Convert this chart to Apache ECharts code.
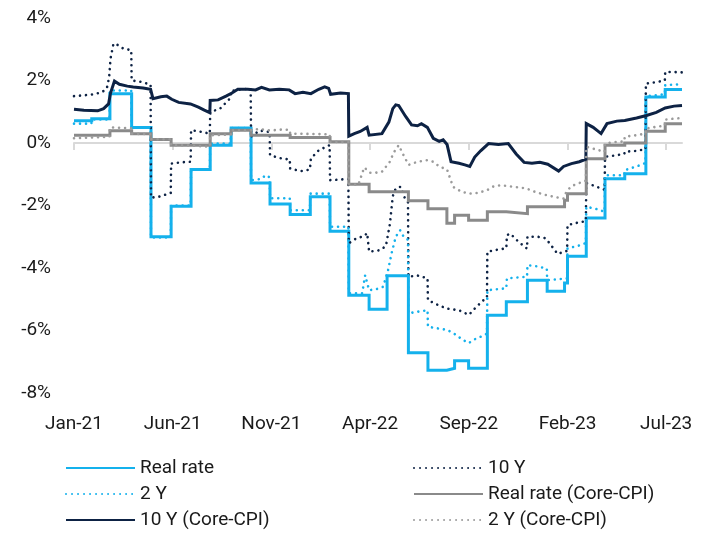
<!DOCTYPE html>
<html>
<head>
<meta charset="utf-8">
<script src="https://cdn.jsdelivr.net/npm/echarts@6/dist/echarts.min.js"></script>
<style>
  html, body { margin: 0; padding: 0; background: #fff; }
  #chart { width: 712px; height: 533px; }
</style>
</head>
<body>
<div id="chart"></div>
<script>
// x = months since Jan 2021
var tickMonths = [0, 5, 10, 15, 20, 25, 30];
var tickLabels = ['Jan-21', 'Jun-21', 'Nov-21', 'Apr-22', 'Sep-22', 'Feb-23', 'Jul-23'];

// step series: [month where level starts, level]; last point closes the line
var realRate = [
  [0, 0.71], [0.9, 0.78], [1.82, 1.58], [2.92, 0.5], [3.9, -3.0], [4.92, -2.02],
  [5.93, -0.85], [6.9, -0.07], [7.96, 0.48], [8.97, -1.28], [9.93, -1.95],
  [10.95, -2.29], [11.97, -1.72], [12.97, -2.82], [13.92, -4.87], [14.95, -5.32],
  [15.86, -4.25], [16.94, -6.71], [17.93, -7.27], [18.89, -7.21], [19.28, -6.97],
  [19.99, -7.21], [20.94, -5.51], [21.9, -5.08], [22.97, -4.39], [23.97, -4.74],
  [24.85, -4.48], [25.0, -3.62], [25.95, -2.4], [26.9, -1.14], [27.9, -0.98],
  [28.97, 1.47], [29.95, 1.71], [30.8, 1.71]
];

var realRateCore = [
  [0, 0.25], [1.82, 0.39], [2.92, 0.3], [3.9, 0.11], [4.92, -0.07], [6.9, 0.3],
  [7.96, 0.41], [8.97, 0.25], [10.95, 0.18], [12.97, 0.04], [13.92, -1.32],
  [14.95, -1.56], [16.94, -1.85], [17.93, -2.1], [18.89, -2.57], [19.28, -2.31],
  [19.99, -2.47], [20.94, -2.2], [21.9, -2.26], [22.97, -2.04], [24.85, -1.83],
  [25.0, -1.62], [25.95, -0.5], [26.9, -0.07], [27.9, 0.0], [28.97, 0.38],
  [29.95, 0.62], [30.8, 0.62]
];

// daily-ish series: [month, value]
var twoY = [
  [0, 0.62], [0.88, 0.62], [0.9, 0.75], [1.8, 0.75], [1.82, 1.68], [2.9, 1.68],
  [2.92, 0.5], [3.88, 0.5], [3.9, -3.02], [4.9, -3.02], [4.92, -2.0], [5.91, -2.0],
  [5.93, -0.84], [6.88, -0.84], [6.9, -0.02], [7.94, -0.02], [7.96, 0.48],
  [8.95, 0.48], [8.97, -1.19], [9.5, -1.15], [9.7, -1.03], [9.91, -1.1],
  [9.93, -1.77], [10.93, -1.77], [10.95, -2.15], [11.95, -2.15], [11.97, -1.62],
  [12.95, -1.62], [12.97, -2.68], [13.9, -2.68], [13.92, -4.81], [14.6, -4.81],
  [14.75, -4.23], [14.95, -4.71], [15.3, -4.68], [15.66, -4.6], [15.9, -4.1],
  [16.1, -3.5], [16.3, -3.0], [16.52, -2.79], [16.7, -3.0], [16.92, -3.1],
  [16.94, -5.45], [17.4, -5.4], [17.91, -5.35], [17.93, -5.88], [18.4, -5.93],
  [18.9, -5.98], [19.3, -6.12], [19.7, -6.3], [20.0, -6.4], [20.3, -6.28],
  [20.6, -6.2], [20.92, -6.1], [20.94, -4.71], [21.4, -4.68], [21.9, -4.65],
  [21.93, -4.33], [22.5, -4.3], [22.95, -4.28], [22.97, -3.91], [23.5, -3.95],
  [23.95, -4.02], [23.97, -4.39], [24.5, -4.36], [24.98, -4.33], [25.0, -3.37],
  [25.5, -3.3], [25.93, -3.2], [25.95, -2.04], [26.4, -2.1], [26.88, -2.2],
  [26.9, -1.03], [27.4, -1.03], [27.88, -1.03], [27.9, -0.87], [28.5, -0.75],
  [28.95, -0.64], [28.97, 1.5], [29.5, 1.53], [29.93, 1.56], [29.95, 1.85],
  [30.4, 1.87], [30.8, 1.88]
];

var tenY = [
  [0, 1.5], [0.9, 1.55], [1.4, 1.62], [1.66, 1.74], [1.78, 2.1], [1.85, 2.7],
  [2.0, 3.18], [2.2, 3.14], [2.5, 3.02], [2.9, 2.97], [2.92, 2.0], [3.3, 1.97],
  [3.88, 1.87], [3.9, -1.75], [4.3, -1.72], [4.9, -1.6], [4.92, -0.66],
  [5.4, -0.62], [5.91, -0.6], [5.93, 0.41], [6.5, 0.35], [6.88, 0.3],
  [6.9, 0.99], [7.4, 1.1], [7.94, 1.45], [7.96, 1.67], [8.5, 1.72], [8.95, 1.74],
  [8.97, 0.2], [9.4, 0.4], [9.91, 0.35], [9.93, -0.39], [10.4, -0.48],
  [10.93, -0.53], [10.95, -0.82], [11.5, -0.9], [11.95, -0.85], [12.0, -0.5],
  [12.4, -0.23], [12.95, -0.07], [12.97, -1.19], [13.5, -1.17], [13.9, -1.15],
  [13.92, -3.21], [14.3, -3.05], [14.7, -2.98], [14.85, -2.88], [14.95, -3.48],
  [15.5, -3.43], [15.8, -3.3], [16.0, -2.6], [16.15, -1.7], [16.3, -1.45],
  [16.55, -1.4], [16.75, -1.75], [16.92, -1.9], [16.94, -4.28], [17.4, -4.24],
  [17.91, -4.33], [17.93, -5.03], [18.5, -5.2], [18.9, -5.3], [19.5, -5.35],
  [20.0, -5.5], [20.3, -5.3], [20.7, -5.05], [20.92, -4.95], [20.94, -3.48],
  [21.4, -3.42], [21.9, -3.37], [21.93, -2.95], [22.1, -2.9], [22.5, -3.15],
  [22.95, -3.38], [22.97, -3.0], [23.5, -3.0], [23.9, -3.05], [24.2, -3.3],
  [24.5, -3.55], [24.98, -3.45], [25.0, -2.63], [25.5, -2.55], [25.93, -2.5],
  [25.95, -1.28], [26.4, -1.38], [26.88, -1.5], [26.9, -0.44], [27.4, -0.4],
  [27.88, -0.35], [27.9, -0.28], [28.5, -0.25], [28.95, -0.2], [28.97, 1.9],
  [29.5, 1.95], [29.93, 2.0], [29.95, 2.27], [30.4, 2.27], [30.8, 2.26]
];

var tenYCore = [
  [0, 1.08], [0.5, 1.05], [1.2, 1.03], [1.5, 1.1], [1.75, 1.25], [1.85, 1.6],
  [2.05, 1.98], [2.3, 1.88], [2.7, 1.82], [3.0, 1.79], [3.5, 1.76], [3.88, 1.72],
  [4.0, 1.42], [4.4, 1.48], [4.7, 1.5], [4.95, 1.4], [5.3, 1.3], [5.9, 1.25],
  [6.3, 1.15], [6.6, 1.05], [6.88, 0.97], [6.9, 1.36], [7.3, 1.38], [7.7, 1.5],
  [8.0, 1.6], [8.3, 1.72], [8.8, 1.72], [9.2, 1.7], [9.5, 1.78], [9.9, 1.7],
  [10.4, 1.72], [10.9, 1.7], [11.2, 1.58], [11.6, 1.62], [12.0, 1.58],
  [12.4, 1.72], [12.7, 1.8], [12.9, 1.75], [13.0, 1.56], [13.5, 1.6],
  [13.9, 1.58], [13.92, 0.22], [14.2, 0.3], [14.5, 0.37], [14.85, 0.5],
  [14.95, 0.25], [15.6, 0.3], [15.95, 0.67], [16.15, 1.1], [16.3, 1.22],
  [16.45, 1.2], [16.8, 0.85], [17.1, 0.58], [17.4, 0.55], [17.6, 0.62],
  [17.9, 0.5], [18.2, 0.15], [18.5, 0.05], [18.7, 0.1], [18.9, -0.05],
  [19.1, -0.6], [19.5, -0.65], [19.8, -0.7], [20.05, -0.75], [20.3, -0.45],
  [20.6, -0.25], [21.0, -0.02], [21.5, -0.05], [22.0, -0.02], [22.4, -0.35],
  [22.8, -0.62], [23.2, -0.65], [23.6, -0.62], [24.0, -0.68], [24.55, -0.9],
  [24.8, -0.75], [25.2, -0.66], [25.6, -0.6], [25.93, -0.52], [25.95, 0.62],
  [26.3, 0.5], [26.7, 0.3], [27.0, 0.62], [27.5, 0.7], [27.9, 0.72],
  [28.5, 0.8], [29.0, 0.88], [29.5, 0.98], [29.95, 1.12], [30.4, 1.18], [30.8, 1.2]
];

var twoYCore = [
  [0, 0.15], [1.8, 0.2], [1.82, 0.5], [2.9, 0.47], [2.92, 0.3], [3.88, 0.28],
  [3.9, 0.12], [4.9, 0.12], [4.92, -0.07], [5.91, -0.08], [5.93, -0.12],
  [6.88, -0.12], [6.9, 0.25], [7.94, 0.27], [7.96, 0.41], [8.95, 0.41],
  [8.97, 0.35], [9.4, 0.45], [9.91, 0.4], [10.5, 0.43], [10.93, 0.42],
  [10.95, 0.3], [12.95, 0.28], [12.97, 0.04], [13.9, 0.03], [13.92, -1.3],
  [14.4, -1.35], [14.7, -0.78], [15.0, -0.95], [15.3, -0.95], [15.6, -0.92],
  [16.0, -0.6], [16.2, -0.3], [16.45, -0.07], [16.7, -0.4], [16.95, -0.7],
  [17.4, -0.6], [17.9, -0.55], [18.2, -0.6], [18.5, -0.75], [18.9, -0.85],
  [19.2, -1.4], [19.6, -1.55], [20.0, -1.62], [20.4, -1.6], [20.9, -1.52],
  [21.2, -1.4], [21.6, -1.35], [22.0, -1.38], [22.5, -1.42], [22.9, -1.45],
  [23.3, -1.55], [23.8, -1.65], [24.3, -1.72], [24.8, -1.78], [24.95, -1.55],
  [25.2, -1.38], [25.6, -1.28], [25.93, -1.2], [25.95, -0.12], [26.4, -0.2],
  [26.88, -0.28], [26.9, -0.02], [27.4, 0.03], [27.88, 0.05], [27.9, 0.2],
  [28.5, 0.25], [28.95, 0.3], [28.97, 0.46], [29.5, 0.52], [29.93, 0.55],
  [29.95, 0.75], [30.4, 0.78], [30.8, 0.8]
];

var FONT = 'Roboto, "Liberation Sans", sans-serif';
var dotted = [0.01, 6];

function solid(name, data, color, step) {
  return {
    name: name, type: 'line', data: data, step: step ? 'end' : false,
    symbol: 'none', showSymbol: false,
    lineStyle: { color: color, width: 3, join: 'miter' },
    itemStyle: { color: color }
  };
}
function dots(name, data, color) {
  return {
    name: name, type: 'line', data: data,
    symbol: 'none', showSymbol: false,
    lineStyle: { color: color, width: 2.6, type: dotted, cap: 'round' },
    itemStyle: { color: color }
  };
}

function legendBox(left, names) {
  return {
    orient: 'vertical', left: left, top: 458, height: 100, padding: 0,
    itemWidth: 69, itemHeight: 12, itemGap: 6,
    itemStyle: { opacity: 0 },
    textStyle: { fontFamily: FONT, fontSize: 19, lineHeight: 20, color: '#1a1a1a' },
    data: names
  };
}

var chart = echarts.init(document.getElementById('chart'));
chart.setOption({
  animation: false,
  backgroundColor: '#fff',
  grid: { left: 74, right: 30, top: 18, bottom: 140 },
  xAxis: [{
    type: 'value', min: 0, max: 30.8, position: 'bottom',
    axisLine: { show: false, onZero: false },
    axisTick: { show: false },
    splitLine: { show: false },
    axisLabel: {
      customValues: tickMonths, margin: 22,
      color: '#1a1a1a', fontFamily: FONT, fontSize: 19,
      formatter: function (v) { return tickLabels[tickMonths.indexOf(Math.round(v))] || ''; }
    }
  }, {
    type: 'value', min: 0, max: 30.8, position: 'bottom',
    axisLine: { show: true, onZero: true, lineStyle: { color: '#d9d9d9', width: 2 } },
    axisTick: { show: true, customValues: tickMonths, length: 7, lineStyle: { color: '#d9d9d9', width: 2 } },
    axisLabel: { show: false },
    splitLine: { show: false }
  }],
  yAxis: {
    type: 'value', min: -8, max: 4, interval: 2,
    axisLine: { show: false }, axisTick: { show: false }, splitLine: { show: false },
    axisLabel: { formatter: '{value}%', margin: 23, color: '#1a1a1a', fontFamily: FONT, fontSize: 19 }
  },
  legend: [
    legendBox(65, ['Real rate', '2 Y', '10 Y (Core-CPI)']),
    legendBox(413, ['10 Y', 'Real rate (Core-CPI)', '2 Y (Core-CPI)'])
  ],
  series: [
    solid('Real rate', realRate, '#14b1ec', true),
    dots('10 Y', tenY, '#0d2244'),
    dots('2 Y', twoY, '#14b1ec'),
    solid('Real rate (Core-CPI)', realRateCore, '#8a8a8a', true),
    solid('10 Y (Core-CPI)', tenYCore, '#0d2244', false),
    dots('2 Y (Core-CPI)', twoYCore, '#9b9b9b')
  ].map(function (s) { s.xAxisIndex = 0; return s; })
});
</script>
</body>
</html>
